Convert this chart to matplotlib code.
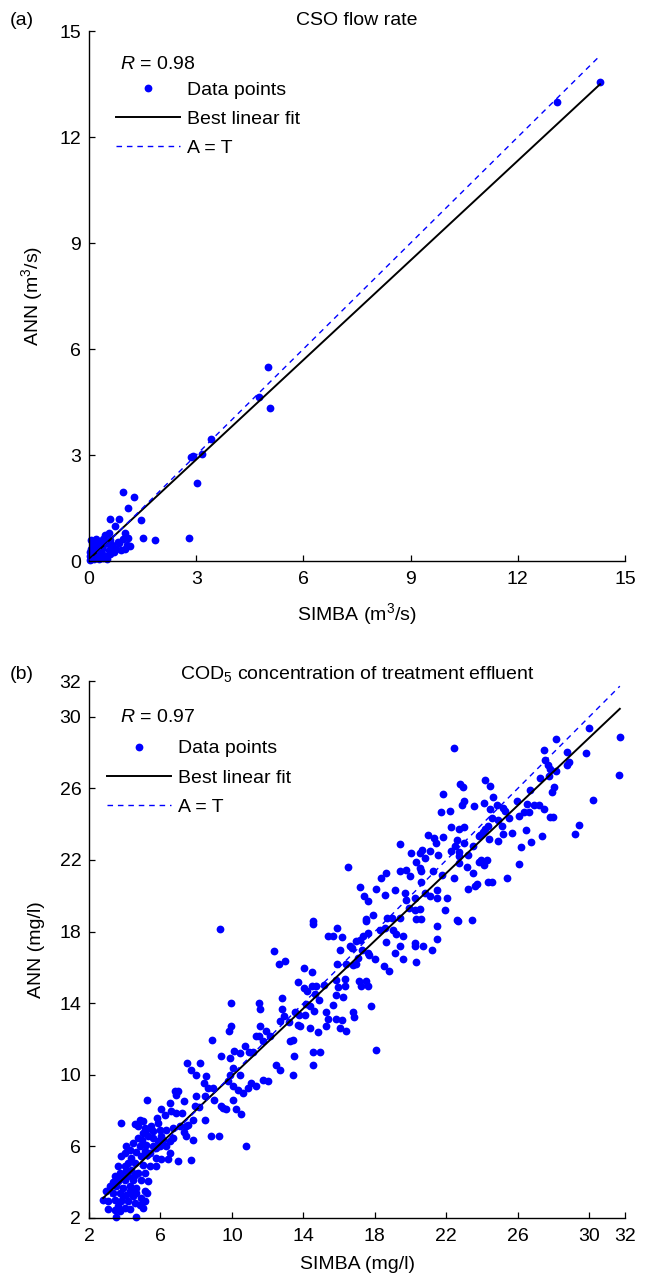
import matplotlib
matplotlib.use("Agg")
import matplotlib.pyplot as plt
import numpy as np

plt.rcParams["font.family"] = ["Liberation Sans", "DejaVu Sans"]
plt.rcParams["mathtext.fontset"] = "custom"
plt.rcParams["mathtext.rm"] = "Liberation Sans"
plt.rcParams["mathtext.it"] = "Liberation Sans:italic"
plt.rcParams["mathtext.default"] = "regular"

# ---- panel (a): CSO flow rate ----
cso_simba = [14.3, 13.1, 5.0, 4.76, 5.06, 3.42, 2.9, 2.85, 3.17, 3.03,
             2.8, 1.85, 1.5, 1.45, 0.95, 1.25, 1.1, 0.6, 0.85, 0.72,
             0.55, 1.0, 1.1, 1.15, 1.05, 0.95, 0.85, 0.55, 0.65, 0.75,
             0.4, 0.45, 0.3, 0.2, 0.05, 0.1, 0.25, 0.35, 0.5, 0.6,
             0.45, 0.7, 0.8, 0.35, 0.25, 0.15, 0.05, 0.1, 0.2, 0.3,
             0.05, 0.15, 0.02, 0.08, 0.18, 0.28, 0.4, 0.12, 0.03, 0.22,
             0.5, 0.38, 0.6, 0.9, 1.0, 0.15, 0.06, 0.1, 0.02, 0.25]
cso_ann = [13.55, 13.0, 5.48, 4.65, 4.33, 3.45, 2.96, 2.93, 3.04, 2.2,
           0.65, 0.6, 0.65, 1.15, 1.95, 1.82, 1.5, 1.2, 1.2, 1.0,
           0.8, 0.8, 0.65, 0.42, 0.45, 0.62, 0.5, 0.3, 0.45, 0.35,
           0.62, 0.75, 0.5, 0.62, 0.6, 0.45, 0.4, 0.35, 0.5, 0.2,
           0.15, 0.25, 0.55, 0.2, 0.25, 0.3, 0.35, 0.2, 0.15, 0.1,
           0.1, 0.05, 0.02, 0.12, 0.22, 0.05, 0.08, 0.4, 0.25, 0.5,
           0.05, 0.45, 0.6, 0.3, 0.35, 0.15, 0.05, 0.08, 0.15, 0.12]
cso_fit = (0.94, 0.05)   # slope, intercept
cso_r = 0.98
cso_ticks = [0, 3, 6, 9, 12, 15]

# ---- panel (b): COD5 concentration ----
# upper right part
cod_simba_hi = [22.44, 28.13, 29.98, 31.71, 27.44, 28.75, 29.79, 27.51, 27.70, 27.80,
                28.13, 28.77, 28.84, 27.27, 27.72, 31.64, 28.04, 27.94, 30.22, 26.66,
                24.19, 24.47, 22.79, 22.96, 21.82, 24.62, 23.00, 22.89, 23.54, 24.12,
                24.81, 25.16, 25.95, 26.49, 26.90, 27.20, 27.44, 24.44, 25.28, 26.06,
                26.32, 26.64, 27.79, 27.98, 21.69, 22.20, 24.55, 24.90, 25.50, 29.44,
                29.19, 27.35, 26.73, 26.47, 25.69, 25.16, 25.11, 24.34, 24.16, 23.82,
                24.03, 24.40, 24.90, 22.98, 22.70, 22.27, 21.84, 20.96, 21.32, 21.41,
                19.38, 22.57, 22.98, 22.48, 22.25, 22.72, 23.50, 23.88, 26.17, 26.06,
                20.66, 21.08, 20.01, 20.52, 20.80, 21.56, 22.72, 23.24, 23.95, 24.25,
                23.82, 24.10, 22.72, 23.13, 20.33, 20.52, 16.50, 19.43, 19.73, 18.61,
                18.37, 19.98, 20.61, 21.23, 21.73, 22.44, 23.50, 25.42, 17.19, 18.09,
                19.12, 20.61, 19.68, 18.58, 17.38, 17.64, 19.73, 20.22, 20.80, 21.08,
                21.49, 21.45, 22.01, 23.22, 23.60, 23.69, 24.34, 24.53, 19.90, 20.24,
                20.52, 21.92, 17.90, 18.69, 18.98, 19.40, 20.29, 20.61, 22.62, 23.41,
                17.53]
cod_ann_hi = [28.23, 28.76, 29.37, 28.85, 28.14, 28.05, 27.98, 27.60, 27.32, 27.08,
              26.99, 27.32, 27.45, 26.58, 26.67, 26.76, 26.06, 25.78, 25.37, 25.93,
              26.49, 26.15, 26.24, 26.08, 25.70, 25.52, 25.31, 25.09, 24.99, 25.18,
              25.09, 24.88, 25.28, 25.13, 25.09, 25.09, 24.87, 24.85, 24.72, 24.47,
              24.66, 24.66, 24.38, 24.40, 24.66, 24.75, 24.35, 24.25, 24.35, 23.97,
              23.45, 23.36, 23.00, 23.69, 23.51, 23.45, 23.88, 23.88, 23.73, 23.32,
              23.54, 23.17, 23.04, 23.82, 23.73, 23.82, 23.26, 23.38, 23.23, 22.95,
              22.91, 23.14, 22.95, 22.76, 22.48, 22.45, 22.76, 23.41, 22.72, 21.79,
              22.58, 22.48, 22.39, 22.39, 22.11, 22.30, 22.20, 22.26, 22.02, 22.02,
              21.87, 21.74, 21.83, 21.61, 21.89, 21.55, 21.61, 21.36, 21.42, 21.27,
              20.99, 21.09, 21.36, 21.36, 21.18, 20.99, 21.27, 20.99, 20.49, 20.38,
              20.30, 20.75, 20.15, 20.06, 19.97, 19.69, 19.78, 19.87, 20.15, 19.97,
              20.34, 19.87, 19.87, 20.38, 20.53, 20.68, 20.75, 20.75, 19.32, 19.22,
              19.26, 19.19, 18.91, 18.76, 18.76, 18.76, 18.70, 18.70, 18.66, 18.66,
              18.70]
# middle part
cod_simba_mid = [9.32, 14.54, 14.56, 15.87, 15.38, 15.63, 16.15, 17.53, 17.34, 17.62,
                 17.16, 16.97, 18.28, 18.56, 19.02, 19.21, 19.55, 18.61, 19.40, 19.12,
                 19.55, 20.24, 20.27, 20.70, 21.22, 21.49, 21.49, 20.33, 22.66, 16.60,
                 16.73, 16.04, 17.59, 17.29, 17.68, 18.00, 17.03, 16.78, 16.97, 16.41,
                 15.89, 18.50, 18.78, 12.38, 12.64, 12.99, 14.04, 14.49, 13.68, 14.04,
                 14.21, 14.47, 14.73, 15.16, 15.85, 16.32, 16.32, 15.94, 17.12, 17.53,
                 17.21, 17.62, 15.85, 16.22, 14.86, 14.64, 15.63, 14.13, 14.36, 14.60,
                 17.81, 12.83, 12.81, 12.90, 13.52, 13.76, 14.08, 15.25, 15.35, 15.85,
                 16.17, 16.75, 16.84, 11.52, 11.59, 9.93, 12.68, 13.20, 13.67, 13.80,
                 14.39, 14.82, 15.29, 16.04, 16.41, 11.59, 11.93, 12.12, 11.33, 11.52,
                 9.84, 9.93, 8.89, 10.72, 10.12, 10.47, 10.96, 11.18, 9.41, 9.88,
                 13.39, 13.27, 13.48, 14.51, 14.92, 18.09, 11.74]
cod_ann_mid = [18.14, 18.57, 18.44, 18.20, 17.77, 17.77, 17.68, 18.57, 17.73, 17.92,
               17.55, 17.49, 18.11, 18.20, 18.11, 17.86, 17.73, 17.42, 17.18, 16.80,
               16.47, 17.36, 17.18, 17.21, 16.99, 17.60, 18.29, 16.28, 18.57, 17.21,
               17.08, 16.99, 16.80, 16.99, 16.71, 16.47, 16.52, 16.15, 16.21, 16.21,
               16.19, 16.09, 15.78, 16.90, 16.19, 16.37, 15.96, 15.74, 15.16, 14.85,
               14.66, 14.98, 14.94, 15.00, 15.31, 15.35, 14.94, 14.90, 15.22, 15.26,
               14.94, 14.98, 14.48, 14.34, 14.20, 14.53, 13.92, 13.95, 13.86, 13.58,
               13.82, 14.29, 13.67, 13.30, 13.49, 13.36, 13.32, 13.51, 13.13, 13.13,
               13.08, 13.49, 13.21, 14.01, 13.67, 14.01, 12.98, 12.93, 12.80, 12.71,
               12.61, 12.37, 12.71, 12.61, 12.46, 12.74, 12.43, 12.18, 12.18, 12.18,
               12.43, 12.71, 11.92, 11.59, 11.31, 11.22, 11.25, 11.25, 11.03, 10.94,
               11.96, 11.87, 11.07, 11.25, 11.25, 11.40, 11.87]
# lower left part
cod_simba_lo = [7.51, 7.73, 8.01, 8.20, 8.42, 8.57, 8.66, 8.95, 8.52, 8.98,
                8.01, 7.92, 8.16, 8.85, 9.28, 8.52, 7.82, 7.82, 7.73, 9.37,
                9.50, 9.69, 10.06, 10.21, 10.53, 9.78, 10.06, 10.34, 10.62, 10.90,
                11.09, 11.33, 9.88, 10.06, 10.44, 10.81, 11.74, 12.02, 12.49, 12.71,
                13.42, 14.54,
                3.81, 5.25, 6.01, 6.52, 6.80, 6.98, 6.85, 7.30, 6.61, 6.89,
                7.23, 6.24, 5.83, 5.87, 5.49, 5.03, 4.84, 4.56, 4.74, 5.21,
                5.59, 5.96, 6.33, 6.71, 7.08, 7.41, 7.54, 7.30, 7.45, 6.71,
                6.52, 6.05, 5.87, 5.31, 4.99, 4.75, 5.21, 5.59, 5.96, 6.33,
                4.09, 4.32, 3.81, 4.00, 4.65, 4.89, 5.27, 5.77, 6.05, 6.43,
                6.52, 6.98, 5.77, 5.40, 5.03, 4.56, 4.19, 3.63, 3.44, 3.72,
                4.09, 4.37, 4.75, 5.12, 5.31, 4.93, 4.47, 4.00, 3.63, 3.35,
                3.16, 3.53, 3.91, 4.28, 4.65, 5.12, 5.25, 2.97, 3.35, 3.72,
                4.09, 4.47, 4.93, 5.12, 2.79, 3.07, 3.44, 3.81, 4.19, 4.56,
                4.84, 5.03, 3.07, 3.44, 3.72, 3.53, 4.61, 4.00, 4.28, 3.63,
                3.91, 4.28, 4.65, 3.81, 4.19, 4.56, 4.00, 4.37, 4.84, 4.47,
                5.12, 5.40, 5.77, 5.03, 5.12, 5.59, 6.15]
cod_ann_lo = [10.66, 10.29, 10.01, 10.66, 9.54, 9.91, 9.26, 9.26, 8.80, 8.61,
              8.80, 8.27, 8.20, 6.56, 6.56, 7.45, 7.49, 6.34, 5.26, 8.27,
              8.14, 8.09, 8.61, 8.09, 7.83, 9.63, 9.39, 9.17, 9.01, 9.26,
              9.54, 9.39, 10.01, 10.38, 10.01, 6.00, 9.73, 9.63, 10.57, 10.29,
              10.01, 10.57,
              7.31, 8.61, 8.09, 8.42, 9.08, 9.08, 8.89, 8.52, 7.96, 7.86,
              7.86, 7.77, 7.58, 7.31, 7.12, 7.40, 7.49, 7.27, 7.12, 6.93,
              6.84, 6.93, 6.90, 7.03, 7.12, 7.12, 7.21, 6.78, 6.56, 6.47,
              6.28, 6.56, 6.28, 6.56, 6.37, 6.47, 6.09, 6.00, 6.00, 6.00,
              6.00, 5.82, 5.44, 5.63, 5.67, 5.44, 5.54, 5.35, 5.30, 5.30,
              5.63, 5.20, 4.88, 4.88, 4.98, 5.07, 5.07, 4.88, 4.33, 4.51,
              4.61, 4.70, 4.51, 4.51, 4.05, 4.14, 4.14, 4.14, 4.05, 3.99,
              3.77, 3.77, 3.67, 3.77, 3.67, 3.49, 3.40, 3.49, 3.40, 3.40,
              3.30, 3.21, 3.12, 2.93, 3.02, 2.93, 3.02, 2.93, 2.93, 2.84,
              2.74, 2.56, 2.50, 2.46, 2.37, 2.05, 2.05, 2.56, 2.50, 2.65,
              3.21, 3.49, 3.40, 4.33, 4.33, 4.42, 4.88, 5.35, 6.00, 6.19,
              5.72, 5.63, 5.91, 6.75, 7.03, 6.47, 6.37]
cod_fit = (0.945, 0.48)
cod_r = 0.97
cod_ticks = [2, 6, 10, 14, 18, 22, 26, 30, 32]

fs = 14

fig = plt.figure(figsize=(6.46, 12.8), dpi=100)
ax1 = fig.add_axes([89 / 646, 1 - 561 / 1280, 536 / 646, 530 / 1280])
ax2 = fig.add_axes([89 / 646, 1 - 1218 / 1280, 536 / 646, 537 / 1280])


def panel(ax, xs, ys, fit, r, ticks, title, unit, leg_xy, r_y, title_y, xlab_y):
    xs = np.array(xs)
    ys = np.array(ys)
    ax.plot(xs, ys, "o", color="blue", ms=5.6, mec="none", clip_on=False,
            label="Data points", zorder=2)
    xx = np.array([xs.min(), xs.max()])
    ax.plot(xx, fit[0] * xx + fit[1], color="black", lw=1.4,
            label="Best linear fit", zorder=3)
    ax.plot(xx, xx, color="blue", lw=1.0, ls=(0, (4, 3.5)), label="A = T", zorder=3)

    ax.set_xlim(ticks[0], ticks[-1])
    ax.set_ylim(ticks[0], ticks[-1])
    ax.set_xticks(ticks)
    ax.set_yticks(ticks)
    ax.spines["top"].set_visible(False)
    ax.spines["right"].set_visible(False)
    for s in ["left", "bottom"]:
        ax.spines[s].set_linewidth(1.0)
    ax.tick_params(direction="in", length=4, width=0.9, labelsize=fs)
    ax.tick_params(axis="x", pad=7.5)
    ax.tick_params(axis="y", pad=5.5)

    ax.set_xlabel("SIMBA (" + unit + ")", fontsize=fs)
    ax.set_ylabel("ANN (" + unit + ")", fontsize=fs)
    ax.xaxis.set_label_coords(0.5, xlab_y)
    ax.yaxis.set_label_coords(-0.082, 0.5)

    ax.text(0.5, title_y, title, transform=ax.transAxes, ha="center",
            va="baseline", fontsize=fs)
    ax.text(0.058, r_y, r"$\mathit{R}$ = %.2f" % r, transform=ax.transAxes,
            va="center", fontsize=fs)
    ax.legend(loc="upper left", bbox_to_anchor=leg_xy, frameon=False,
              fontsize=fs, borderpad=0, borderaxespad=0, handlelength=3.3,
              handletextpad=0.35, labelspacing=0.6, numpoints=1)


panel(ax1, cso_simba, cso_ann, cso_fit, cso_r, cso_ticks, "CSO flow rate",
      r"m$^3$/s", (0.05, 0.9055), 0.9377, 1.011, -0.0755)
panel(ax2, cod_simba_hi + cod_simba_mid + cod_simba_lo,
      cod_ann_hi + cod_ann_mid + cod_ann_lo, cod_fit, cod_r, cod_ticks,
      r"COD$_5$ concentration of treatment effluent", "mg/l",
      (0.034, 0.8905), 0.9314, 1.004, -0.0705)

fig.text(10 / 646, 1 - 25 / 1280, "(a)", fontsize=fs, va="baseline")
fig.text(10 / 646, 1 - 679 / 1280, "(b)", fontsize=fs, va="baseline")

fig.savefig("out.png", dpi=100)
